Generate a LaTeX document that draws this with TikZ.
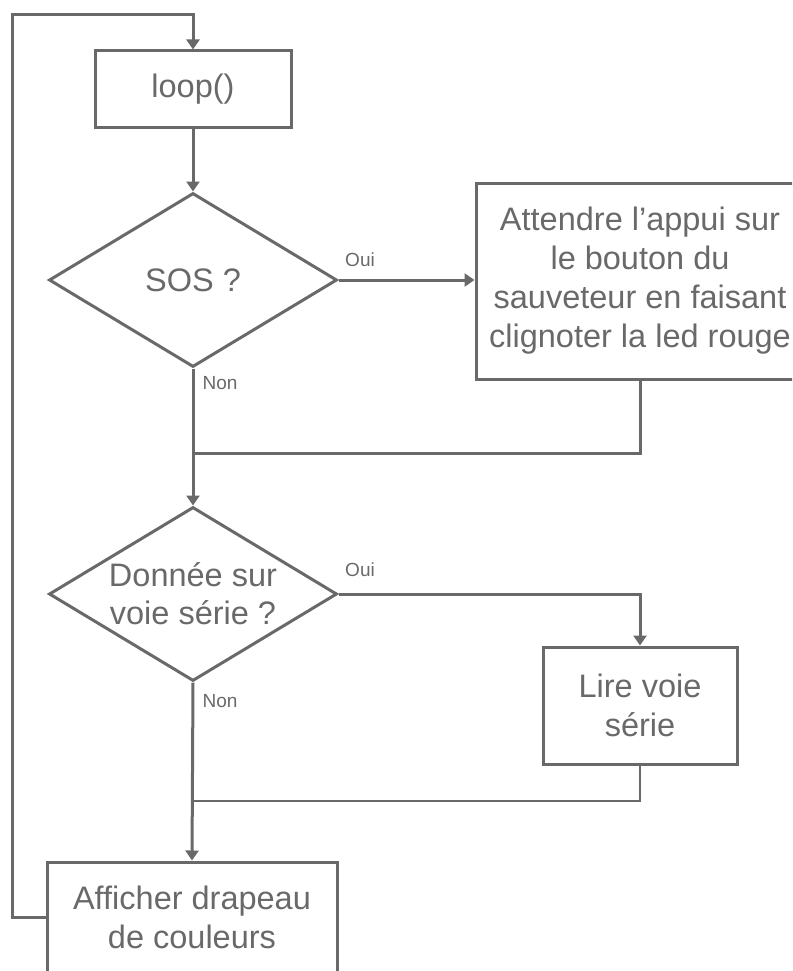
\documentclass[tikz,border=0pt]{standalone}
\usepackage{fontspec}
\setmainfont{Liberation Sans}
\usetikzlibrary{shapes.geometric,arrows.meta}
\definecolor{fg}{RGB}{105,105,105}
\begin{document}
\begin{tikzpicture}[x=1pt,y=-1pt,
  every node/.style={text=fg},
  box/.style={draw=fg,line width=3pt,rectangle,inner sep=0pt,align=center,
    font=\fontsize{32.5}{39}\selectfont},
  dia/.style={draw=fg,line width=3pt,diamond,inner sep=0pt,aspect=1.655,
    minimum width=288pt,minimum height=174pt},
  dtext/.style={align=center,inner sep=0pt,font=\fontsize{32.5}{38}\selectfont},
  lab/.style={inner sep=0pt,font=\fontsize{19}{22}\selectfont},
  conn/.style={draw=fg,line width=3pt},
  thin/.style={draw=fg,line width=2pt},
  arr/.style={conn,-{Triangle[width=13pt,length=10pt]}}]
\useasboundingbox (0,0) rectangle (792,971);
\clip (0,0) rectangle (792,971);

\node[box,minimum width=196pt,minimum height=77pt] (loop) at (193,89.5) {loop()};
\node[dia] (sos) at (193,280) {};
\node[dtext] (sost) at (sos.center) {SOS ?};
\node[box,minimum width=328pt,minimum height=196pt] (att) at (640,281)
  {Attendre l’appui sur\\le bouton du\\sauveteur en faisant\\clignoter la led rouge};
\node[dia] (ser) at (193,594) {};
\node[dtext] (sert) at (ser.center) {Donnée sur\\voie série ?};
\node[box,minimum width=194pt,minimum height=117pt] (lire) at (640,705.5) {Lire voie\\série};
\node[box,minimum width=290pt,minimum height=110pt] (aff) at (192,917) {Afficher drapeau\\de couleurs};

\coordinate (j1) at (193,453);
\coordinate (j2) at (193,801);
\coordinate (tl) at (12,15);

\node[lab] (oui1) at (360,260) {Oui};
\node[lab] (non1) at (220,383) {Non};
\node[lab] (oui2) at (360,570) {Oui};
\node[lab] (non2) at (220,701) {Non};

\draw[arr] (loop.south) -- (sos.north);
\draw[arr] (sos.east) -- (sos.east -| att.west);
\draw[arr] (sos.south) -- (ser.north);
\draw[conn] (att.south) |- (j1);
\draw[arr] (ser.east) -| (lire.north);
\draw[arr] (ser.south) -- (aff.north);
\draw[thin] (lire.south) |- (j2);
\draw[arr] (aff.west) -| (tl) -| (loop.north);
\end{tikzpicture}
\end{document}
